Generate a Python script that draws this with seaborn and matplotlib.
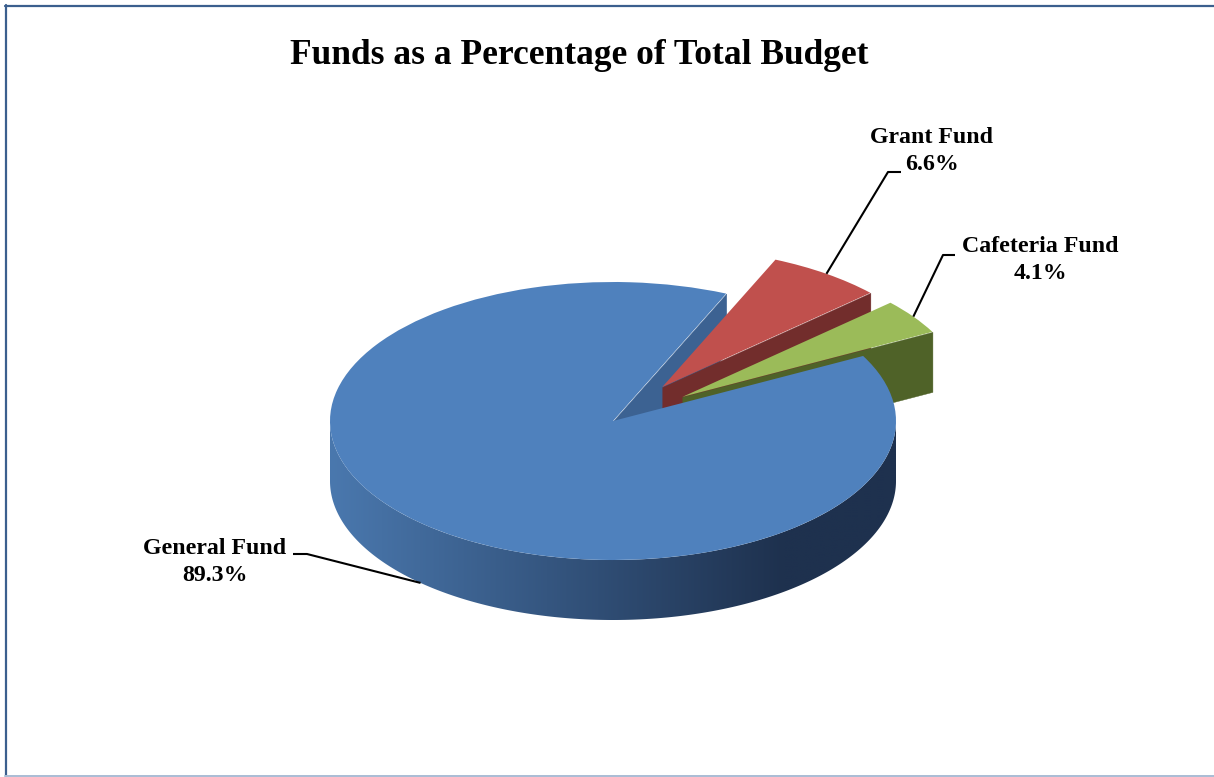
import numpy as np
import matplotlib
matplotlib.use("Agg")
import matplotlib.pyplot as plt
from matplotlib.collections import PolyCollection
from matplotlib.patches import Polygon
from matplotlib.lines import Line2D
from matplotlib.colors import to_rgb
import seaborn as sns

# ---- data -------------------------------------------------------------
funds = ["General Fund", "Grant Fund", "Cafeteria Fund"]
shares = [89.3, 6.6, 4.1]
pct_labels = ["89.3%", "6.6%", "4.1%"]
explode = [0.0, 0.3, 0.3]

top_colors = ["#4f81bd", "#c0504d", "#9bbb59"]
cut_colors = ["#3c6292", "#722d2c", "#4f6228"]
rim_light, rim_dark = "#4a78ae", "#1e314e"

sns.set_theme(style="white")
plt.rcParams["font.family"] = ["Liberation Serif", "DejaVu Serif"]

W, H = 1214, 777
fig = plt.figure(figsize=(W / 100, H / 100), dpi=100)
ax = fig.add_axes([0, 0, 1, 1])

# pixel layout of the tilted pie: centre and semi-axes of the top face
CX, CY, RX, RY = 613, 421, 283, 139
DEPTH = 60 / RY          # thickness of the disc in data units


def to_data(px, py):
    return (px - CX) / RX, (CY - py) / RY


wedges, _ = ax.pie(shares, explode=explode, colors=top_colors, startangle=27.9,
                   counterclock=False, radius=1.0,
                   wedgeprops=dict(linewidth=0, antialiased=True))

# ---- side walls --------------------------------------------------------
def cut_face(w, ang):
    cx, cy = w.center
    a = np.deg2rad(ang)
    ox, oy = cx + w.r * np.cos(a), cy + w.r * np.sin(a)
    return [(cx, cy), (ox, oy), (ox, oy - DEPTH), (cx, cy - DEPTH)]


# visible cut faces (clockwise edge of each wedge)
z = {0: 1, 1: 3, 2: 5}
for i, w in enumerate(wedges):
    face = cut_face(w, w.theta1)
    ax.add_collection(PolyCollection([face], facecolors=cut_colors[i],
                                     edgecolors=cut_colors[i], linewidths=0.3,
                                     zorder=z[i]))
    w.set_zorder(z[i] + 1)

# front rim of each wedge, shaded from left to right
c_light, c_dark = np.array(to_rgb(rim_light)), np.array(to_rgb(rim_dark))
gx = np.linspace(-1.05, 1.05, 600)
gt = np.clip((gx + 1) / 1.6, 0, 1)[None, :, None]
gradient = c_light * (1 - gt) + c_dark * gt

for i, w in enumerate(wedges):
    th = np.deg2rad(np.linspace(w.theta1, w.theta2, 1440))
    front = th[np.sin(th) <= 0]
    if front.size < 2:
        continue
    cx, cy = w.center
    xs, ys = cx + w.r * np.cos(front), cy + w.r * np.sin(front)
    rim = np.column_stack([np.r_[xs, xs[::-1]], np.r_[ys, ys[::-1] - DEPTH]])
    patch = Polygon(rim, closed=True, facecolor="none", edgecolor="none")
    ax.add_patch(patch)
    if i == 0:
        im = ax.imshow(gradient, extent=(cx - 1.05, cx + 1.05, cy - 1.5, cy + 0.1),
                       aspect="auto", interpolation="bilinear", zorder=0.5)
        im.set_clip_path(patch)
    else:
        patch.set_facecolor(cut_colors[i])
        patch.set_zorder(0.5)

# general fund top face sits above the exploded slices' side walls
wedges[0].set_zorder(10)

ax.set_xlim(to_data(0, 0)[0], to_data(W, 0)[0])
ax.set_ylim(to_data(0, H)[1], to_data(0, 0)[1])
ax.set_aspect("auto")
ax.axis("off")

# ---- labels with leader lines -----------------------------------------
def mid_point(w, drop=0.0):
    m = np.deg2rad((w.theta1 + w.theta2) / 2)
    cx, cy = w.center
    return cx + w.r * np.cos(m), cy + w.r * np.sin(m) - drop


label_layout = {
    # knee (px), horizontal end (px), text centre (px)
    1: ((888, 172), (901, 172), (932, 151)),
    2: ((943, 255), (955, 255), (1040, 260)),
    0: ((307, 554), (293, 554), (215, 562)),
}
for i, w in enumerate(wedges):
    knee, end, txt = label_layout[i]
    anchor = mid_point(w, DEPTH if i == 0 else 0.0)
    kx, ky = to_data(*knee)
    ex, ey = to_data(*end)
    ax.plot([anchor[0], kx, ex], [anchor[1], ky, ey], color="black",
            lw=1.5, zorder=20, solid_capstyle="butt")
    tx, ty = to_data(*txt)
    ax.text(tx, ty, f"{funds[i]}\n{pct_labels[i]}", ha="center", va="center",
            multialignment="center", fontsize=17.2, fontweight="bold",
            color="black", linespacing=1.38, zorder=21)

fig.text(579 / W, 1 - 56 / H, "Funds as a Percentage of Total Budget",
         ha="center", va="center", fontsize=25.5, fontweight="bold", color="black")

# ---- chart frame -------------------------------------------------------
frame_dark, frame_light = "#3b5f8e", "#a9bcd4"
fig.add_artist(Line2D([5.5 / W, 5.5 / W], [0, 1 - 5 / H], color=frame_dark,
                      lw=1.6, transform=fig.transFigure))
fig.add_artist(Line2D([5 / W, 1], [1 - 5.5 / H, 1 - 5.5 / H], color=frame_dark,
                      lw=1.6, transform=fig.transFigure))
fig.add_artist(Line2D([5 / W, 1], [1.5 / H, 1.5 / H], color=frame_light,
                      lw=1.4, transform=fig.transFigure))

fig.savefig("out.png", dpi=100, facecolor="white")
